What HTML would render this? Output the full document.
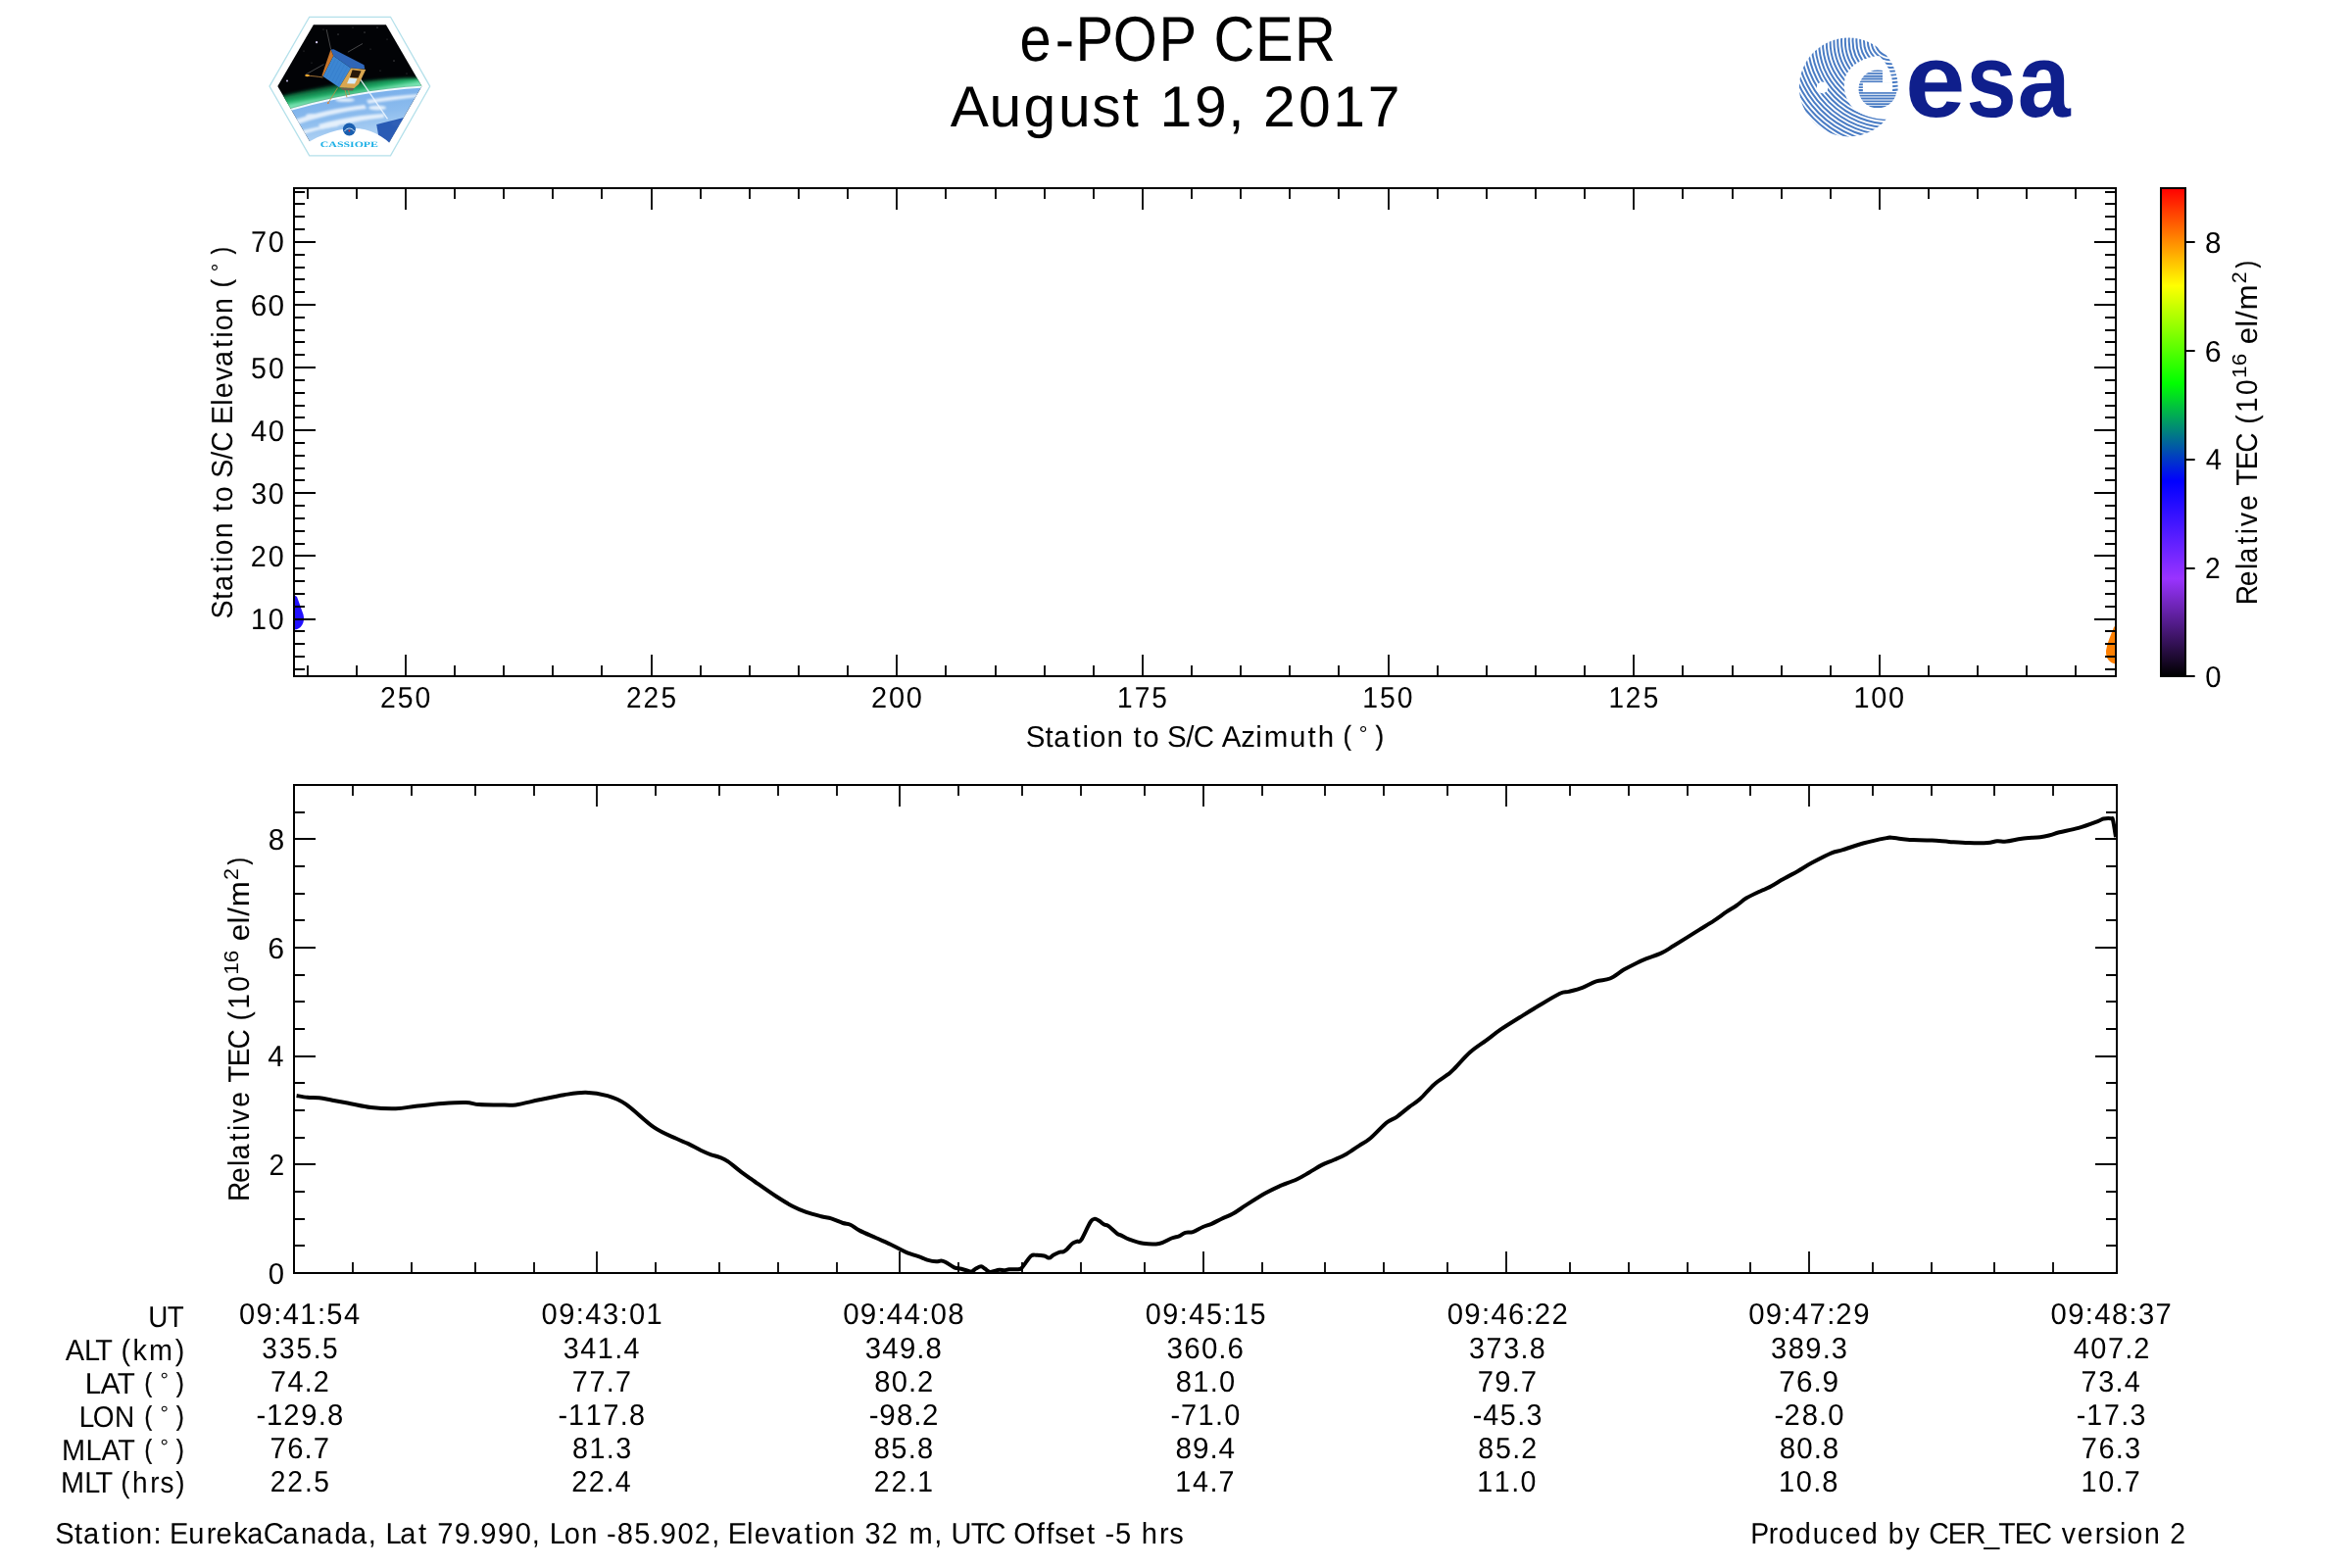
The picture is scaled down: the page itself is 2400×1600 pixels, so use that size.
<!DOCTYPE html><html><head><meta charset="utf-8"><title>e-POP CER August 19, 2017</title><style>html,body{margin:0;padding:0;background:#fff;overflow:hidden}svg{display:block}text{font-family:"Liberation Sans",sans-serif;font-kerning:none;font-variant-ligatures:none;text-rendering:geometricPrecision;white-space:pre}</style></head><body>
<domain style="display:none">Chart</domain>
<svg width="2400" height="1600" viewBox="0 0 2400 1600">
<rect width="2400" height="1600" fill="#fff"/>
<g style="opacity:0.999">
<g id="cassiope">
<defs>
<clipPath id="hexin"><polygon points="319.9,25.2 393.9,25.2 430.4,88.1 395.3,148.5 318.5,148.5 283.3,88.1"/></clipPath>
<linearGradient id="earthg" x1="0" y1="0" x2="0.3" y2="1">
<stop offset="0" stop-color="#d0e6fb"/><stop offset="0.2" stop-color="#78aeea"/><stop offset="0.55" stop-color="#8cbcee"/><stop offset="1" stop-color="#c0dcf6"/></linearGradient>
<linearGradient id="aurg" x1="0" y1="0" x2="0" y2="1">
<stop offset="0" stop-color="#0a3020" stop-opacity="0"/><stop offset="0.45" stop-color="#1fa060"/><stop offset="0.8" stop-color="#2fd080"/><stop offset="1" stop-color="#c8f0e0"/></linearGradient>
<linearGradient id="aurg2" gradientUnits="userSpaceOnUse" x1="358" y1="80" x2="361" y2="97"><stop offset="0" stop-color="#063a22" stop-opacity="0"/><stop offset="0.35" stop-color="#0e6a3c"/><stop offset="0.75" stop-color="#22b46c"/><stop offset="1" stop-color="#7fe8b8"/></linearGradient>
<filter id="blur1" x="-10%" y="-50%" width="120%" height="200%"><feGaussianBlur stdDeviation="1.6"/></filter>
<filter id="blur1c" x="-20%" y="-50%" width="140%" height="200%"><feGaussianBlur stdDeviation="1.1"/></filter>
<filter id="blur05"><feGaussianBlur stdDeviation="0.6"/></filter>
<linearGradient id="goldg" x1="0" y1="0" x2="1" y2="1"><stop offset="0" stop-color="#f0c060"/><stop offset="0.5" stop-color="#c08030"/><stop offset="1" stop-color="#e8d0a0"/></linearGradient>
<linearGradient id="panelg" x1="0" y1="0" x2="1" y2="1"><stop offset="0" stop-color="#3a80d0"/><stop offset="1" stop-color="#2a64b8"/></linearGradient>
</defs>
<polygon points="315.7,17.3 398.5,17.3 438.7,88.1 398.5,158.8 315.7,158.8 275,88.1" fill="#fff"/>
<g clip-path="url(#hexin)">
<rect x="280" y="22" width="155" height="130" fill="#020306"/>
<g fill="#fff">
<circle cx="323.1" cy="43.2" r="1.1" fill="#d8d0ff"/><circle cx="293" cy="82.5" r="0.9" fill="#d8d0ff"/>
<circle cx="345" cy="35" r="0.4"/><circle cx="372" cy="33" r="0.4"/><circle cx="385" cy="28" r="0.4"/><circle cx="395" cy="40" r="0.35"/>
<circle cx="402" cy="62" r="0.45"/><circle cx="378" cy="50" r="0.35"/><circle cx="310" cy="52" r="0.35"/><circle cx="330" cy="30" r="0.35"/>
<circle cx="415" cy="75" r="0.35"/><circle cx="360" cy="28" r="0.35"/><circle cx="318" cy="64" r="0.3"/><circle cx="388" cy="72" r="0.35"/>
</g>
<path d="M280 100 Q356 79 435 79.5 L435 89 Q360 92 280 117 Z" fill="url(#aurg2)" filter="url(#blur1)"/>
<path d="M280 117 Q360 92 435 88.5 L435 155 L280 155 Z" fill="url(#earthg)"/>
<path d="M280 117 Q360 92 435 88.5" fill="none" stroke="#f0f8ff" stroke-width="2" filter="url(#blur05)"/>
<g fill="#ffffff" opacity="0.75" filter="url(#blur1c)">
<path d="M296 124 C320 115 345 110 372 107 L374 111 C348 114 322 120 298 129 Z"/>
<path d="M325 127 C350 120 372 117 392 116 L392 120 C372 122 350 127 328 132 Z"/>
<path d="M374 102 C392 99 410 97 428 96 L428 99 C410 101 392 103 376 106 Z"/>
<path d="M300 136 C315 131 330 128 345 126 L345 129 C330 131 316 134 302 140 Z"/>
<ellipse cx="385" cy="110" rx="9" ry="2.5"/><ellipse cx="318" cy="118" rx="6" ry="2"/><ellipse cx="405" cy="126" rx="6" ry="3"/>
<ellipse cx="352" cy="102" rx="10" ry="2"/>
</g>
<path d="M384.2 127 L412 120 L420 124 L396 149 L388 149 Z" fill="#1c4fae" opacity="0.9"/>
</g>
<path d="M305 152 C320 140 340 132 358 131 C375 130 390 137 404 152 Z" fill="#ffffff"/>
<line x1="367.3" y1="80.3" x2="395.5" y2="121.4" stroke="#eef6ff" stroke-width="1.3" opacity="0.9"/>
<g stroke="#8a8a8a" stroke-width="0.5" fill="none">
<line x1="333.2" y1="30.1" x2="337.6" y2="50.2"/>
<line x1="370" y1="44.5" x2="354.9" y2="53.2"/>
<line x1="312" y1="76" x2="330.5" y2="65.6"/>
</g>
<g stroke="#c88a40" stroke-width="0.8" fill="none">
<path d="M313 77.2 C318 77.5 324 78 329.5 79"/>
<line x1="334.8" y1="105.2" x2="344.6" y2="89.5"/>
<line x1="354" y1="99.5" x2="351.5" y2="89.5"/>
<line x1="356.5" y1="97" x2="355" y2="89"/>
</g>
<ellipse cx="313.5" cy="77.1" rx="2.4" ry="1.1" fill="#ffb030"/>
<circle cx="334.8" cy="105.2" r="0.9" fill="#e08030"/>
<polygon points="337.5,50.6 340.5,50.2 371.5,66.2 372.3,70.5 358.1,69.4 340.2,57" fill="#2f66b8"/>
<polygon points="337.5,50.6 340.2,57 329.6,78 328.4,77.2" fill="#c8762c"/>
<polygon points="340.2,57 358.1,69.4 346.2,89.2 329.6,78" fill="#3c86d2"/>
<g stroke="#2a6cc0" stroke-width="0.35" opacity="0.7">
<line x1="343" y1="59" x2="332.5" y2="79.5"/><line x1="346" y1="61" x2="335.5" y2="81.5"/><line x1="349" y1="63" x2="338.5" y2="83.5"/><line x1="352" y1="65" x2="341.5" y2="85.5"/><line x1="355" y1="67.2" x2="344.5" y2="87.5"/>
</g>
<polygon points="358.1,69.4 373.3,71.1 366.2,85.7 361.4,90 348.4,89.6 346.2,89.2" fill="#d9a650"/>
<polygon points="359.6,71.2 368.5,72.4 365.5,79.6 357,79" fill="#2a1a0a"/>
<polygon points="356.5,79.5 364.5,80.2 362,85.6 354,85.2" fill="#d8ecf8"/>
<polygon points="346.2,89.2 348.4,89.6 361.4,90 360,92.5 350,92" fill="#6a6050"/>
<polygon points="315.7,17.3 398.5,17.3 438.7,88.1 398.5,158.8 315.7,158.8 275,88.1" fill="none" stroke="#b4e0ea" stroke-width="1.3"/>
<circle cx="356.4" cy="132" r="6.5" fill="#1a5fb0"/>
<path d="M351.5 134 C354 130 359 130 361.5 134" stroke="#fff" stroke-width="0.8" fill="none"/>
<circle cx="356.4" cy="133.5" r="0.9" fill="#e03030"/>
<text x="326.8" y="149.8" font-size="8.2" font-weight="bold" fill="#1fb0e6" textLength="59.2" lengthAdjust="spacingAndGlyphs" style="font-family:'Liberation Serif',serif">CASSIOPE</text>
</g>

<g id="esa">
<defs><clipPath id="esaouter"><circle cx="1886.3" cy="89" r="50.4"/></clipPath><mask id="esaring" maskUnits="userSpaceOnUse" x="1830" y="30" width="120" height="120"><rect x="1830" y="30" width="120" height="120" fill="#fff"/><path d="M1914.2 57.2 C1900 59 1886 68 1882.6 80 C1880 92 1884 104 1891.8 111.2 C1899 117.5 1912 121.5 1926 121.7 L1940 121.7 L1940 93.6 L1930.96 93.6 A44.9 44.9 0 0 0 1918 57.2 Z" fill="#000"/><circle cx="1859.5" cy="89.4" r="5.8" fill="#000"/></mask><mask id="esae" maskUnits="userSpaceOnUse" x="1890" y="65" width="55" height="55"><circle cx="1916" cy="91" r="19.5" fill="#fff"/><rect x="1900.9" y="84.3" width="40" height="9.8" fill="#000"/><rect x="1921" y="60" width="20" height="24.5" fill="#000"/></mask></defs>
<g clip-path="url(#esaouter)"><g mask="url(#esaring)" fill="none" stroke="#4a7cc4" stroke-width="2.0"><circle cx="1929" cy="42" r="4.00"/><circle cx="1929" cy="42" r="7.83"/><circle cx="1929" cy="42" r="11.66"/><circle cx="1929" cy="42" r="15.49"/><circle cx="1929" cy="42" r="19.32"/><circle cx="1929" cy="42" r="23.15"/><circle cx="1929" cy="42" r="26.98"/><circle cx="1929" cy="42" r="30.81"/><circle cx="1929" cy="42" r="34.64"/><circle cx="1929" cy="42" r="38.47"/><circle cx="1929" cy="42" r="42.30"/><circle cx="1929" cy="42" r="46.13"/><circle cx="1929" cy="42" r="49.96"/><circle cx="1929" cy="42" r="53.79"/><circle cx="1929" cy="42" r="57.62"/><circle cx="1929" cy="42" r="61.45"/><circle cx="1929" cy="42" r="65.28"/><circle cx="1929" cy="42" r="69.11"/><circle cx="1929" cy="42" r="72.94"/><circle cx="1929" cy="42" r="76.77"/><circle cx="1929" cy="42" r="80.60"/><circle cx="1929" cy="42" r="84.43"/><circle cx="1929" cy="42" r="88.26"/><circle cx="1929" cy="42" r="92.09"/><circle cx="1929" cy="42" r="95.92"/><circle cx="1929" cy="42" r="99.75"/><circle cx="1929" cy="42" r="103.58"/><circle cx="1929" cy="42" r="107.41"/><circle cx="1929" cy="42" r="111.24"/><circle cx="1929" cy="42" r="115.07"/><circle cx="1929" cy="42" r="118.90"/><circle cx="1929" cy="42" r="122.73"/><circle cx="1929" cy="42" r="126.56"/><circle cx="1929" cy="42" r="130.39"/><circle cx="1929" cy="42" r="134.22"/><circle cx="1929" cy="42" r="138.05"/><circle cx="1929" cy="42" r="141.88"/><circle cx="1929" cy="42" r="145.71"/><circle cx="1929" cy="42" r="149.54"/><circle cx="1929" cy="42" r="153.37"/><circle cx="1929" cy="42" r="157.20"/><circle cx="1929" cy="42" r="161.03"/><circle cx="1929" cy="42" r="164.86"/><circle cx="1929" cy="42" r="168.69"/><circle cx="1929" cy="42" r="172.52"/></g>
<path mask="url(#esae)" d="M1894 72.00H1940M1894 74.85H1940M1894 77.70H1940M1894 80.55H1940M1894 83.40H1940M1894 86.25H1940M1894 89.10H1940M1894 91.95H1940M1894 94.80H1940M1894 97.65H1940M1894 100.50H1940M1894 103.35H1940M1894 106.20H1940M1894 109.05H1940" stroke="#4a7cc4" stroke-width="1.9"/>
</g>
<text x="1943.99" y="118.50" font-size="107" font-weight="bold" fill="#0f1f8c" textLength="61.38" lengthAdjust="spacingAndGlyphs">e</text>
<text x="2006.56" y="118.50" font-size="107" font-weight="bold" fill="#0f1f8c" textLength="51.21" lengthAdjust="spacingAndGlyphs">s</text>
<text x="2058.66" y="118.50" font-size="107" font-weight="bold" fill="#0f1f8c" textLength="53.93" lengthAdjust="spacingAndGlyphs">a</text>
</g>
<text transform="translate(1041.1 61.9) scale(0.8945 1)" x="-0.64 39.76 63.08 105.72 157.97 198.91 220.71 268.14 312.94" y="0" font-size="64.74">e-POP CER</text>
<text transform="translate(970.7 128.5) scale(0.9987 1)" x="-1.05 38.77 73.85 109.35 143.65 175.05 194.28 212.98 248.51 282.86 300.45 318.72 354.86 389.95 425.55" y="0" font-size="58.87">August 19, 2017</text>
<defs><clipPath id="cu"><rect x="300" y="192" width="1859" height="498"/></clipPath>
<clipPath id="cl"><rect x="300" y="801" width="1860" height="498"/></clipPath>
<linearGradient id="cmap" x1="0" y1="1" x2="0" y2="0"><stop offset="0" stop-color="#000000"/><stop offset="0.2" stop-color="#9933ff"/><stop offset="0.4" stop-color="#0000ff"/><stop offset="0.6" stop-color="#00ff00"/><stop offset="0.8" stop-color="#ffff00"/><stop offset="1" stop-color="#ff0000"/></linearGradient></defs>
<g clip-path="url(#cu)">
<path d="M300 607 L303 609 C305 614 307 620 309.5 627 C312 636 306 643 300 642.5 Z" fill="#2211ff"/>
<path d="M2159 638 L2157 640 C2154 648 2150 656 2149 664 C2148.5 672 2153 677 2159 677.5 Z" fill="#ff8000"/>
</g>
<g clip-path="url(#cl)"><path d="M302.6 1118C304.45 1118.3 309.87 1119.42 313.7 1119.8C317.53 1120.18 321.35 1119.82 325.6 1120.3C329.85 1120.78 333.82 1121.72 339.2 1122.7C344.58 1123.68 351.38 1124.98 357.9 1126.2C364.42 1127.42 370.65 1129.17 378.3 1130C385.95 1130.83 396.13 1131.4 403.8 1131.2C411.47 1131 416.35 1129.67 424.3 1128.8C432.25 1127.93 443 1126.63 451.5 1126C460 1125.37 469.07 1124.82 475.3 1125C481.53 1125.18 483.23 1126.7 488.9 1127.1C494.57 1127.5 503.07 1127.35 509.3 1127.4C515.53 1127.45 519.5 1128.25 526.3 1127.4C533.1 1126.55 541.88 1124 550.1 1122.3C558.32 1120.6 567.67 1118.47 575.6 1117.2C583.53 1115.93 590.33 1114.55 597.7 1114.7C605.07 1114.85 613 1116.12 619.8 1118.1C626.6 1120.08 630.57 1121.22 638.5 1126.6C646.43 1131.98 658.82 1144.53 667.4 1150.4C675.98 1156.27 684.25 1159.05 690 1161.8C695.75 1164.55 697.65 1164.87 701.9 1166.9C706.15 1168.93 711.53 1172.1 715.5 1174C719.47 1175.9 722.58 1177.17 725.7 1178.3C728.82 1179.43 731.37 1179.67 734.2 1180.8C737.03 1181.93 739.02 1182.6 742.7 1185.1C746.38 1187.6 751.77 1192.4 756.3 1195.8C760.83 1199.2 763.95 1201.33 769.9 1205.5C775.85 1209.67 785.48 1216.55 792 1220.8C798.52 1225.05 803.88 1228.32 809 1231C814.12 1233.68 817.87 1235.2 822.7 1236.9C827.53 1238.6 833.75 1240.12 838 1241.2C842.25 1242.28 844.52 1242.27 848.2 1243.4C851.88 1244.53 856.85 1246.95 860.1 1248C863.35 1249.05 864.87 1248.43 867.7 1249.7C870.53 1250.97 872.7 1253.33 877.1 1255.6C881.5 1257.87 888.43 1260.73 894.1 1263.3C899.77 1265.87 906 1268.58 911.1 1271C916.2 1273.42 919.88 1275.78 924.7 1277.8C929.52 1279.82 936.43 1281.8 940 1283.1C943.57 1284.4 943.55 1284.9 946.1 1285.6C948.65 1286.3 952.92 1287.17 955.3 1287.3C957.68 1287.43 958.87 1286.33 960.4 1286.4C961.93 1286.47 962.28 1286.55 964.5 1287.7C966.72 1288.85 970.98 1292.12 973.7 1293.3C976.42 1294.48 978.25 1294.17 980.8 1294.8C983.35 1295.43 987.13 1296.68 989 1297.1C990.87 1297.52 990.82 1297.77 992 1297.3C993.18 1296.83 994.57 1295.15 996.1 1294.3C997.63 1293.45 999.67 1292.12 1001.2 1292.2C1002.73 1292.28 1003.77 1293.85 1005.3 1294.8C1006.83 1295.75 1008.02 1297.73 1010.4 1297.9C1012.78 1298.07 1017.22 1296.07 1019.6 1295.8C1021.98 1295.53 1023 1296.38 1024.7 1296.3C1026.4 1296.22 1027.58 1295.47 1029.8 1295.3C1032.02 1295.13 1035.97 1295.47 1038 1295.3C1040.03 1295.13 1040.65 1295.32 1042 1294.3C1043.35 1293.28 1044.4 1291.33 1046.1 1289.2C1047.8 1287.07 1050.33 1282.92 1052.2 1281.5C1054.07 1280.08 1055.08 1280.7 1057.3 1280.7C1059.52 1280.7 1063.28 1281.02 1065.5 1281.5C1067.72 1281.98 1069.07 1283.72 1070.6 1283.6C1072.13 1283.48 1073 1281.77 1074.7 1280.8C1076.4 1279.83 1079.1 1278.37 1080.8 1277.8C1082.5 1277.23 1083.53 1277.97 1084.9 1277.4C1086.27 1276.83 1087.47 1275.8 1089 1274.4C1090.53 1273 1092.4 1270.28 1094.1 1269C1095.8 1267.72 1097.67 1267.33 1099.2 1266.7C1100.73 1266.07 1101.1 1268.43 1103.3 1265.2C1105.5 1261.97 1110.12 1250.87 1112.4 1247.3C1114.68 1243.73 1115.47 1244.05 1117 1243.8C1118.53 1243.55 1119.98 1244.83 1121.6 1245.8C1123.22 1246.77 1125.17 1248.75 1126.7 1249.6C1128.23 1250.45 1128.58 1249.37 1130.8 1250.9C1133.02 1252.43 1137.78 1257.18 1140 1258.8C1142.22 1260.42 1142.07 1259.62 1144.1 1260.6C1146.13 1261.58 1148.47 1263.33 1152.2 1264.7C1155.93 1266.07 1161.4 1268.08 1166.5 1268.8C1171.6 1269.52 1177.97 1269.88 1182.8 1269C1187.63 1268.12 1192.1 1264.78 1195.5 1263.5C1198.9 1262.22 1200.87 1262.25 1203.2 1261.3C1205.53 1260.35 1207.17 1258.5 1209.5 1257.8C1211.83 1257.1 1214.22 1258.07 1217.2 1257.1C1220.18 1256.13 1224.22 1253.38 1227.4 1252C1230.58 1250.62 1233.12 1250.18 1236.3 1248.8C1239.48 1247.42 1242.88 1245.4 1246.5 1243.7C1250.12 1242 1253.75 1240.98 1258 1238.6C1262.25 1236.22 1266.47 1232.9 1272 1229.4C1277.53 1225.9 1285.67 1220.73 1291.2 1217.6C1296.73 1214.47 1299.88 1212.95 1305.2 1210.6C1310.52 1208.25 1318 1205.85 1323.1 1203.5C1328.2 1201.15 1331.55 1198.93 1335.8 1196.5C1340.05 1194.07 1344.35 1191.07 1348.6 1188.9C1352.85 1186.73 1357.05 1185.42 1361.3 1183.5C1365.55 1181.58 1369.85 1179.8 1374.1 1177.4C1378.35 1175 1382.77 1171.75 1386.8 1169.1C1390.83 1166.45 1393.62 1165.43 1398.3 1161.5C1402.98 1157.57 1410.43 1149.12 1414.9 1145.5C1419.37 1141.88 1421.27 1142.45 1425.1 1139.8C1428.93 1137.15 1433.93 1132.63 1437.9 1129.6C1441.87 1126.57 1444.72 1125.38 1448.9 1121.6C1453.08 1117.82 1458.32 1111.05 1463 1106.9C1467.68 1102.75 1473.6 1099.32 1477 1096.7C1480.4 1094.08 1479.57 1095.02 1483.4 1091.2C1487.23 1087.38 1494.48 1078.73 1500 1073.8C1505.52 1068.87 1511.2 1065.53 1516.5 1061.6C1521.8 1057.67 1526.05 1054.13 1531.8 1050.2C1537.55 1046.27 1545.03 1041.73 1551 1038C1556.97 1034.27 1560.8 1031.83 1567.6 1027.8C1574.4 1023.77 1586.28 1016.45 1591.8 1013.8C1597.32 1011.15 1596.88 1012.9 1600.7 1011.9C1604.52 1010.9 1610.02 1009.55 1614.7 1007.8C1619.38 1006.05 1624.12 1002.95 1628.8 1001.4C1633.48 999.85 1638.13 1000.47 1642.8 998.5C1647.47 996.53 1652.27 992.23 1656.8 989.6C1661.33 986.97 1666.1 984.6 1670 982.7C1673.9 980.8 1675.95 979.92 1680.2 978.2C1684.45 976.48 1690.82 974.63 1695.5 972.4C1700.18 970.17 1701.92 968.72 1708.3 964.8C1714.68 960.88 1727 953.15 1733.8 948.9C1740.6 944.65 1744.43 942.38 1749.1 939.3C1753.77 936.22 1757.98 932.95 1761.8 930.4C1765.62 927.85 1768.6 926.35 1772 924C1775.4 921.65 1777.93 918.85 1782.2 916.3C1786.47 913.75 1793.98 910.4 1797.6 908.7C1801.22 907 1800.08 908.12 1803.9 906.1C1807.72 904.08 1815.4 899.47 1820.5 896.6C1825.6 893.73 1829.82 891.57 1834.5 888.9C1839.18 886.23 1842.85 883.68 1848.6 880.6C1854.35 877.52 1863.68 872.63 1869 870.4C1874.32 868.17 1874.98 868.9 1880.5 867.2C1886.02 865.5 1894.67 862.22 1902.1 860.2C1909.53 858.18 1920.42 856 1925.1 855.1C1929.78 854.2 1927.02 854.55 1930.2 854.8C1933.38 855.05 1940.62 856.23 1944.2 856.6C1947.78 856.97 1947.18 856.83 1951.7 857C1956.22 857.17 1965.1 857.28 1971.3 857.6C1977.5 857.92 1982.7 858.48 1988.9 858.9C1995.1 859.32 2001.98 859.9 2008.5 860.1C2015.02 860.3 2023.12 860.4 2028 860.1C2032.88 859.8 2034.53 858.55 2037.8 858.3C2041.07 858.05 2043.37 859.03 2047.6 858.6C2051.83 858.17 2057.5 856.43 2063.2 855.7C2068.9 854.97 2077.07 854.77 2081.8 854.2C2086.53 853.63 2088.33 853.12 2091.6 852.3C2094.87 851.48 2096.52 850.53 2101.4 849.3C2106.28 848.07 2114.38 846.77 2120.9 844.9C2127.42 843.03 2136.27 839.67 2140.5 838.1C2144.73 836.53 2144.02 835.98 2146.3 835.5C2148.58 835.02 2152.57 834.93 2154.2 835.2C2155.83 835.47 2155.3 833.93 2156.1 837.1C2156.9 840.27 2158.52 851.35 2159 854.2" fill="none" stroke="#000" stroke-width="4.0" stroke-linejoin="round" stroke-linecap="butt"/></g>
<path d="M2118 690V679M2118 192V203M2068 690V679M2068 192V203M2018 690V679M2018 192V203M1968 690V679M1968 192V203M1918 690V668M1918 192V214M1868 690V679M1868 192V203M1818 690V679M1818 192V203M1768 690V679M1768 192V203M1717 690V679M1717 192V203M1667 690V668M1667 192V214M1617 690V679M1617 192V203M1567 690V679M1567 192V203M1517 690V679M1517 192V203M1467 690V679M1467 192V203M1417 690V668M1417 192V214M1366 690V679M1366 192V203M1316 690V679M1316 192V203M1266 690V679M1266 192V203M1216 690V679M1216 192V203M1166 690V668M1166 192V214M1116 690V679M1116 192V203M1066 690V679M1066 192V203M1016 690V679M1016 192V203M965 690V679M965 192V203M915 690V668M915 192V214M865 690V679M865 192V203M815 690V679M815 192V203M765 690V679M765 192V203M715 690V679M715 192V203M665 690V668M665 192V214M614 690V679M614 192V203M564 690V679M564 192V203M514 690V679M514 192V203M464 690V679M464 192V203M414 690V668M414 192V214M364 690V679M364 192V203M314 690V679M314 192V203M300 683H311M2159 683H2148M300 670H311M2159 670H2148M300 657H311M2159 657H2148M300 644H311M2159 644H2148M300 632H322M2159 632H2137M300 619H311M2159 619H2148M300 606H311M2159 606H2148M300 593H311M2159 593H2148M300 580H311M2159 580H2148M300 567H322M2159 567H2137M300 555H311M2159 555H2148M300 542H311M2159 542H2148M300 529H311M2159 529H2148M300 516H311M2159 516H2148M300 503H322M2159 503H2137M300 490H311M2159 490H2148M300 478H311M2159 478H2148M300 465H311M2159 465H2148M300 452H311M2159 452H2148M300 439H322M2159 439H2137M300 426H311M2159 426H2148M300 414H311M2159 414H2148M300 401H311M2159 401H2148M300 388H311M2159 388H2148M300 375H322M2159 375H2137M300 362H311M2159 362H2148M300 349H311M2159 349H2148M300 337H311M2159 337H2148M300 324H311M2159 324H2148M300 311H322M2159 311H2137M300 298H311M2159 298H2148M300 285H311M2159 285H2148M300 273H311M2159 273H2148M300 260H311M2159 260H2148M300 247H322M2159 247H2137M300 234H311M2159 234H2148M300 221H311M2159 221H2148M300 208H311M2159 208H2148M300 196H311M2159 196H2148M360 1299V1288M360 801V812M420 1299V1288M420 801V812M485 1299V1288M485 801V812M545 1299V1288M545 801V812M609 1299V1277M609 801V823M669 1299V1288M669 801V812M734 1299V1288M734 801V812M794 1299V1288M794 801V812M854 1299V1288M854 801V812M918 1299V1277M918 801V823M978 1299V1288M978 801V812M1043 1299V1288M1043 801V812M1103 1299V1288M1103 801V812M1168 1299V1288M1168 801V812M1228 1299V1277M1228 801V823M1288 1299V1288M1288 801V812M1352 1299V1288M1352 801V812M1412 1299V1288M1412 801V812M1477 1299V1288M1477 801V812M1537 1299V1277M1537 801V823M1602 1299V1288M1602 801V812M1662 1299V1288M1662 801V812M1722 1299V1288M1722 801V812M1786 1299V1288M1786 801V812M1846 1299V1277M1846 801V823M1911 1299V1288M1911 801V812M1971 1299V1288M1971 801V812M2035 1299V1288M2035 801V812M2095 1299V1288M2095 801V812M300 1271H311M2160 1271H2149M300 1244H311M2160 1244H2149M300 1216H311M2160 1216H2149M300 1188H322M2160 1188H2138M300 1161H311M2160 1161H2149M300 1133H311M2160 1133H2149M300 1105H311M2160 1105H2149M300 1078H322M2160 1078H2138M300 1050H311M2160 1050H2149M300 1022H311M2160 1022H2149M300 995H311M2160 995H2149M300 967H322M2160 967H2138M300 939H311M2160 939H2149M300 912H311M2160 912H2149M300 884H311M2160 884H2149M300 856H322M2160 856H2138M300 829H311M2160 829H2149" stroke="#000" stroke-width="1.8" fill="none"/>
<rect x="300" y="192" width="1859" height="498" fill="none" stroke="#000" stroke-width="2"/>
<rect x="300" y="801" width="1860" height="498" fill="none" stroke="#000" stroke-width="2"/>
<text transform="translate(258.35 642) scale(0.9480 1)" x="-2.46 16.33" y="0" font-size="30.23">10</text>
<text transform="translate(257.33 577.9) scale(0.9516 1)" x="-1.65 17.31" y="0" font-size="30.23">20</text>
<text transform="translate(257.41 513.8) scale(0.9496 1)" x="-1.3 17.28" y="0" font-size="30.23">30</text>
<text transform="translate(256.65 449.7) scale(0.9687 1)" x="-0.69 17.55" y="0" font-size="30.23">40</text>
<text transform="translate(257.44 385.6) scale(0.9415 1)" x="-1.42 17.47" y="0" font-size="30.23">50</text>
<text transform="translate(257.24 321.5) scale(0.9853 1)" x="-1.41 16.52" y="0" font-size="30.23">60</text>
<text transform="translate(257.57 257.4) scale(0.9584 1)" x="-1.63 16.87" y="0" font-size="30.23">70</text>
<text transform="translate(1893.89 722) scale(0.9552 1)" x="-2.51 16.15 34.65" y="0" font-size="30.23">100</text>
<text transform="translate(1643.5 722) scale(0.9242 1)" x="-2.3 16.57 35.98" y="0" font-size="30.23">125</text>
<text transform="translate(1392.54 722) scale(0.9364 1)" x="-2.38 16.52 35.51" y="0" font-size="30.23">150</text>
<text transform="translate(1142.15 722) scale(0.9288 1)" x="-2.33 16.79 35.76" y="0" font-size="30.23">175</text>
<text transform="translate(890.68 722) scale(0.9574 1)" x="-1.69 17.15 35.61" y="0" font-size="30.23">200</text>
<text transform="translate(640.29 722) scale(0.9270 1)" x="-1.47 17.6 36.94" y="0" font-size="30.23">225</text>
<text transform="translate(389.33 722) scale(0.9390 1)" x="-1.56 17.54 36.48" y="0" font-size="30.23">250</text>
<text transform="translate(274.8 1309.5) scale(0.9687 1)" x="-1.18" y="0" font-size="30.23">0</text>
<text transform="translate(275.94 1198.83) scale(0.9337 1)" x="-1.52" y="0" font-size="30.23">2</text>
<text transform="translate(274.04 1088.17) scale(0.9688 1)" x="-0.69" y="0" font-size="30.23">4</text>
<text transform="translate(274.82 977.5) scale(1.0026 1)" x="-1.54" y="0" font-size="30.23">6</text>
<text transform="translate(274.91 866.84) scale(0.9792 1)" x="-1.31" y="0" font-size="30.23">8</text>
<text transform="translate(1049.4 761.9) scale(0.9758 1)" x="-2.77 17.5 26.6 46.12 56.59 64.2 81.99 99.36 109.72 119.89 137 145.16 164.72 172.58 193.6 202.3 222.19 237.69 246.34 273.29 292.08 302.58" y="0" font-size="30.23">Station to S/C Azimuth</text>
<text x="1370.63" y="759.91" font-size="27.48" textLength="7.91" lengthAdjust="spacingAndGlyphs" stroke="#000" stroke-width="0.45">(</text>
<text x="1386.7" y="755.95" font-size="21.56" textLength="8.7" lengthAdjust="spacingAndGlyphs">°</text>
<text x="1403.76" y="759.91" font-size="27.48" textLength="8.16" lengthAdjust="spacingAndGlyphs" stroke="#000" stroke-width="0.45">)</text>
<text transform="translate(237 0) rotate(-90) translate(-629.1 0) scale(0.9493 1)" x="-2.59 18.04 27.48 47.36 58.06 65.98 84.21 101.8 112.52 123.04 140.36 148.97 168.87 177.09 198.35 206.67 226.75 234.79 253.19 268.82 288.7 299.41 307.33 325.56" y="0" font-size="30.23">Station to S/C Elevation</text>
<text transform="translate(237 0) rotate(-90)" x="-293.2" y="-2.09" font-size="27.48" textLength="8.04" lengthAdjust="spacingAndGlyphs" stroke="#000" stroke-width="0.45">(</text>
<text transform="translate(237 0) rotate(-90)" x="-277.18" y="-6.05" font-size="21.56" textLength="8.56" lengthAdjust="spacingAndGlyphs">°</text>
<text transform="translate(237 0) rotate(-90)" x="-259.33" y="-2.09" font-size="27.48" textLength="7.16" lengthAdjust="spacingAndGlyphs" stroke="#000" stroke-width="0.45">)</text>
<text transform="translate(254.2 0) rotate(-90) translate(-1223.2 0) scale(0.9304 1)" x="-2.94 17.42 35.8 43 63.31 74.28 83.11 100.41 117.99 127.45 145.15 164.17 185.72 195.31 207.94 227.16" y="0" font-size="30.23">Relative TEC (10</text>
<text transform="translate(254.2 0) rotate(-90)" x="-994.72" y="-11.1" font-size="20.34" textLength="25.11" lengthAdjust="spacingAndGlyphs">16</text>
<text transform="translate(254.2 0) rotate(-90) translate(-958.5 0) scale(1.0393 1)" x="-1.58 15.38 22.78 32.03" y="0" font-size="30.23">el/m</text>
<text transform="translate(254.2 0) rotate(-90)" x="-898.08" y="-10.9" font-size="20.62" textLength="11.96" lengthAdjust="spacingAndGlyphs">2</text>
<text transform="translate(254.2 0) rotate(-90)" x="-882.13" y="-1.87" font-size="27.37" textLength="7.16" lengthAdjust="spacingAndGlyphs" stroke="#000" stroke-width="0.45">)</text>
<rect x="2205" y="192" width="25" height="498" fill="url(#cmap)" stroke="#000" stroke-width="2"/>
<path d="M2230 690H2239.7M2230 580H2239.7M2230 469H2239.7M2230 358H2239.7M2230 247H2239.7" stroke="#000" stroke-width="1.8"/>
<text transform="translate(2251.3 701) scale(0.9687 1)" x="-1.18" y="0" font-size="30.23">0</text>
<text transform="translate(2251.3 590.2) scale(0.9337 1)" x="-1.52" y="0" font-size="30.23">2</text>
<text transform="translate(2251.3 479.4) scale(0.9688 1)" x="-0.69" y="0" font-size="30.23">4</text>
<text transform="translate(2251.3 368.6) scale(1.0026 1)" x="-1.54" y="0" font-size="30.23">6</text>
<text transform="translate(2251.3 257.8) scale(0.9792 1)" x="-1.31" y="0" font-size="30.23">8</text>
<text transform="translate(2303.2 0) rotate(-90) translate(-614.4 0) scale(0.9304 1)" x="-2.94 17.42 35.8 43 63.31 74.28 83.11 100.41 117.99 127.45 145.15 164.17 185.72 195.31 207.94 227.16" y="0" font-size="30.23">Relative TEC (10</text>
<text transform="translate(2303.2 0) rotate(-90)" x="-385.92" y="-11.1" font-size="20.34" textLength="25.11" lengthAdjust="spacingAndGlyphs">16</text>
<text transform="translate(2303.2 0) rotate(-90) translate(-349.7 0) scale(1.0393 1)" x="-1.58 15.38 22.78 32.03" y="0" font-size="30.23">el/m</text>
<text transform="translate(2303.2 0) rotate(-90)" x="-289.28" y="-10.9" font-size="20.62" textLength="11.96" lengthAdjust="spacingAndGlyphs">2</text>
<text transform="translate(2303.2 0) rotate(-90)" x="-273.33" y="-1.87" font-size="27.37" textLength="7.16" lengthAdjust="spacingAndGlyphs" stroke="#000" stroke-width="0.45">)</text>
<text transform="translate(153.8 1353.8) scale(0.9207 1)" x="-2.78 18.49" y="0" font-size="30.23">UT</text>
<text transform="translate(67 1387.9) scale(0.9591 1)" x="-0.39 19.92 31.45" y="0" font-size="30.23">ALT</text>
<text transform="translate(125.9 1387.9) scale(0.9535 1)" x="-2.63 9.94 27.31 55.38" y="0" font-size="30.23">(km)</text>
<text transform="translate(89.2 1421.7) scale(0.9814 1)" x="-2.56 13.83 31.24" y="0" font-size="30.23">LAT</text>
<text x="147.6" y="1419.83" font-size="27.37" textLength="7.54" lengthAdjust="spacingAndGlyphs" stroke="#000" stroke-width="0.45">(</text>
<text x="163.45" y="1415.3" font-size="20.48" textLength="8.42" lengthAdjust="spacingAndGlyphs">°</text>
<text x="179.97" y="1419.83" font-size="27.37" textLength="7.66" lengthAdjust="spacingAndGlyphs" stroke="#000" stroke-width="0.45">)</text>
<text transform="translate(82.8 1455.8) scale(0.9271 1)" x="-2.28 12.97 37.03" y="0" font-size="30.23">LON</text>
<text x="147.6" y="1453.93" font-size="27.37" textLength="7.54" lengthAdjust="spacingAndGlyphs" stroke="#000" stroke-width="0.45">(</text>
<text x="163.45" y="1449.4" font-size="20.48" textLength="8.42" lengthAdjust="spacingAndGlyphs">°</text>
<text x="179.97" y="1453.93" font-size="27.37" textLength="7.66" lengthAdjust="spacingAndGlyphs" stroke="#000" stroke-width="0.45">)</text>
<text transform="translate(65.7 1489.6) scale(0.9564 1)" x="-2.79 22.88 39.49 57.1" y="0" font-size="30.23">MLAT</text>
<text x="147.6" y="1487.73" font-size="27.37" textLength="7.54" lengthAdjust="spacingAndGlyphs" stroke="#000" stroke-width="0.45">(</text>
<text x="163.45" y="1483.2" font-size="20.48" textLength="8.42" lengthAdjust="spacingAndGlyphs">°</text>
<text x="179.97" y="1487.73" font-size="27.37" textLength="7.66" lengthAdjust="spacingAndGlyphs" stroke="#000" stroke-width="0.45">)</text>
<text transform="translate(64.7 1522.7) scale(0.9559 1)" x="-2.87 22.62 34.2" y="0" font-size="30.23">MLT</text>
<text transform="translate(125.5 1522.7) scale(0.9270 1)" x="-2.51 10.32 30.02 41.12 57.92" y="0" font-size="30.23">(hrs)</text>
<text transform="translate(245.11 1351) scale(0.9605 1)" x="-1.12 17.19 35.58 45.42 63.68 82.12 91.86 110.37" y="0" font-size="30.23">09:41:54</text>
<text transform="translate(268.31 1385.6) scale(0.9257 1)" x="-1.12 17.98 36.92 55.55 65.55" y="0" font-size="30.23">335.5</text>
<text transform="translate(277.4 1420) scale(0.9534 1)" x="-1.59 17 35.1 44.42" y="0" font-size="30.23">74.2</text>
<text transform="translate(262.65 1454) scale(0.9653 1)" x="-1.25 9.57 27.65 46.25 64.27 73.8" y="0" font-size="30.23">-129.8</text>
<text transform="translate(277.2 1487.8) scale(0.9679 1)" x="-1.69 16.62 34.51 43.95" y="0" font-size="30.23">76.7</text>
<text transform="translate(277.1 1522) scale(0.9314 1)" x="-1.5 17.47 36.3 46.21" y="0" font-size="30.23">22.5</text>
<text transform="translate(553.64 1351) scale(0.9629 1)" x="-1.14 17.13 35.48 45.29 63.69 81.9 91.72 109.92" y="0" font-size="30.23">09:43:01</text>
<text transform="translate(575.9 1385.6) scale(0.9515 1)" x="-1.31 17.22 35.65 53.93 63.65" y="0" font-size="30.23">341.4</text>
<text transform="translate(585.23 1420) scale(0.9506 1)" x="-1.57 17.02 35.22 44.9" y="0" font-size="30.23">77.7</text>
<text transform="translate(570.68 1454) scale(0.9525 1)" x="-1.2 9.81 28.37 47.02 65.19 74.9" y="0" font-size="30.23">-117.8</text>
<text transform="translate(584.96 1487.8) scale(0.9485 1)" x="-1.08 17.4 35.72 45.53" y="0" font-size="30.23">81.3</text>
<text transform="translate(584.7 1522) scale(0.9492 1)" x="-1.63 16.99 35.53 45.29" y="0" font-size="30.23">22.4</text>
<text transform="translate(861.34 1351) scale(0.9767 1)" x="-1.24 16.77 34.92 44.54 62.63 80.69 90.31 108.41" y="0" font-size="30.23">09:44:08</text>
<text transform="translate(884.1 1385.6) scale(0.9706 1)" x="-1.45 16.72 34.84 52.78 62.24" y="0" font-size="30.23">349.8</text>
<text transform="translate(893.27 1420) scale(0.9630 1)" x="-1.19 17.16 35.12 44.3" y="0" font-size="30.23">80.2</text>
<text transform="translate(887.99 1454) scale(0.9753 1)" x="-1.29 9.44 27.66 45.44 54.46" y="0" font-size="30.23">-98.2</text>
<text transform="translate(892.83 1487.8) scale(0.9597 1)" x="-1.17 17.14 35.26 44.87" y="0" font-size="30.23">85.8</text>
<text transform="translate(893.23 1522) scale(0.9352 1)" x="-1.53 17.37 36.13 45.96" y="0" font-size="30.23">22.1</text>
<text transform="translate(1169.64 1351) scale(0.9518 1)" x="-1.05 17.42 35.94 45.91 64.37 82.91 92.74 111.34" y="0" font-size="30.23">09:45:15</text>
<text transform="translate(1192.06 1385.6) scale(0.9765 1)" x="-1.49 16.57 34.67 52.44 61.81" y="0" font-size="30.23">360.6</text>
<text transform="translate(1200.83 1420) scale(0.9609 1)" x="-1.18 17.06 35.2 44.8" y="0" font-size="30.23">81.0</text>
<text transform="translate(1195.55 1454) scale(0.9566 1)" x="-1.21 9.83 28.21 46.42 56.07" y="0" font-size="30.23">-71.0</text>
<text transform="translate(1200.69 1487.8) scale(0.9831 1)" x="-1.34 16.55 34.31 43.59" y="0" font-size="30.23">89.4</text>
<text transform="translate(1201.68 1522) scale(0.9513 1)" x="-2.48 16.24 34.38 44.05" y="0" font-size="30.23">14.7</text>
<text transform="translate(1477.84 1351) scale(0.9698 1)" x="-1.19 16.94 35.19 44.91 63.14 81.29 90.63 108.86" y="0" font-size="30.23">09:46:22</text>
<text transform="translate(1500.16 1385.6) scale(0.9490 1)" x="-1.29 17.23 35.95 54.08 63.84" y="0" font-size="30.23">373.8</text>
<text transform="translate(1509.32 1420) scale(0.9673 1)" x="-1.69 16.55 34.54 43.98" y="0" font-size="30.23">79.7</text>
<text transform="translate(1503.77 1454) scale(0.9485 1)" x="-1.18 10.04 28.56 46.85 56.66" y="0" font-size="30.23">-45.3</text>
<text transform="translate(1509.33 1487.8) scale(0.9457 1)" x="-1.06 17.51 35.84 45.27" y="0" font-size="30.23">85.2</text>
<text transform="translate(1509.44 1522) scale(0.9442 1)" x="-2.43 16.28 34.67 44.5" y="0" font-size="30.23">11.0</text>
<text transform="translate(1785.46 1351) scale(0.9716 1)" x="-1.2 16.9 35.12 44.81 62.95 81.14 90.45 108.93" y="0" font-size="30.23">09:47:29</text>
<text transform="translate(1808.36 1385.6) scale(0.9614 1)" x="-1.38 16.96 35.25 53.33 62.95" y="0" font-size="30.23">389.3</text>
<text transform="translate(1817.14 1420) scale(0.9844 1)" x="-1.81 16.2 33.87 43.04" y="0" font-size="30.23">76.9</text>
<text transform="translate(1811.61 1454) scale(0.9668 1)" x="-1.25 9.31 27.97 45.88 55.39" y="0" font-size="30.23">-28.0</text>
<text transform="translate(1816.92 1487.8) scale(0.9768 1)" x="-1.3 16.8 34.56 43.93" y="0" font-size="30.23">80.8</text>
<text transform="translate(1817.5 1522) scale(0.9609 1)" x="-2.55 16 33.99 43.58" y="0" font-size="30.23">10.8</text>
<text transform="translate(2093.7 1351) scale(0.9676 1)" x="-1.17 17 35.28 45.03 63.3 81.49 91.28 109.45" y="0" font-size="30.23">09:48:37</text>
<text transform="translate(2116.28 1385.6) scale(0.9571 1)" x="-0.6 17.87 36.28 54.38 63.65" y="0" font-size="30.23">407.2</text>
<text transform="translate(2124.97 1420) scale(0.9521 1)" x="-1.58 17.08 35.16 44.87" y="0" font-size="30.23">73.4</text>
<text transform="translate(2119.83 1454) scale(0.9459 1)" x="-1.17 9.95 28.72 46.99 56.84" y="0" font-size="30.23">-17.3</text>
<text transform="translate(2125.3 1487.8) scale(0.9621 1)" x="-1.65 16.78 34.75 44.36" y="0" font-size="30.23">76.3</text>
<text transform="translate(2125.77 1522) scale(0.9509 1)" x="-2.48 16.26 34.39 44.07" y="0" font-size="30.23">10.7</text>
<text transform="translate(58.9 1574.8) scale(0.9616 1)" x="-2.66 17.83 27.14 46.88 57.49 65.3 83.35 101.53 110.6 118.74 138.74 157.84 168.16 186.44 200.99 218.35 238.89 258.05 274.92 293.86 310.98 329.43 338.52 347.96 363.18 382.92 392.86 402.77 421.13 439.21 448.71 467.1 485.58 503.28 512.37 521.81 537.6 555.66 573.16 582.53 593.56 611.84 629.94 639.44 657.92 675.93 694.02 703.11 711.25 731.22 739.13 757.37 772.84 792.58 803.2 811 829.06 846.56 856.57 874.54 892.53 903.28 929.97 939.06 947.91 969.01 984.38 1005.55 1014.37 1038.75 1048.93 1058.02 1073.45 1092.08 1102.02 1111.39 1122.31 1140.03 1149.99 1169.01 1179.6" y="0" font-size="30.23">Station: EurekaCanada, Lat 79.990, Lon -85.902, Elevation 32 m, UTC Offset -5 hrs</text>
<text transform="translate(1789.6 1575) scale(0.9392 1)" x="-3.53 16.17 26.76 45.1 64.08 82.25 99.12 117.46 135.49 146.17 165.05 181.42 190.17 210.86 230.33 250.17 265.81 283.34 302.2 323.66 334.36 351.51 370.68 381.63 397.51 405.68 424.26 442.03 452.13" y="0" font-size="30.23">Produced by CER_TEC version 2</text>
</g></svg></body></html>
